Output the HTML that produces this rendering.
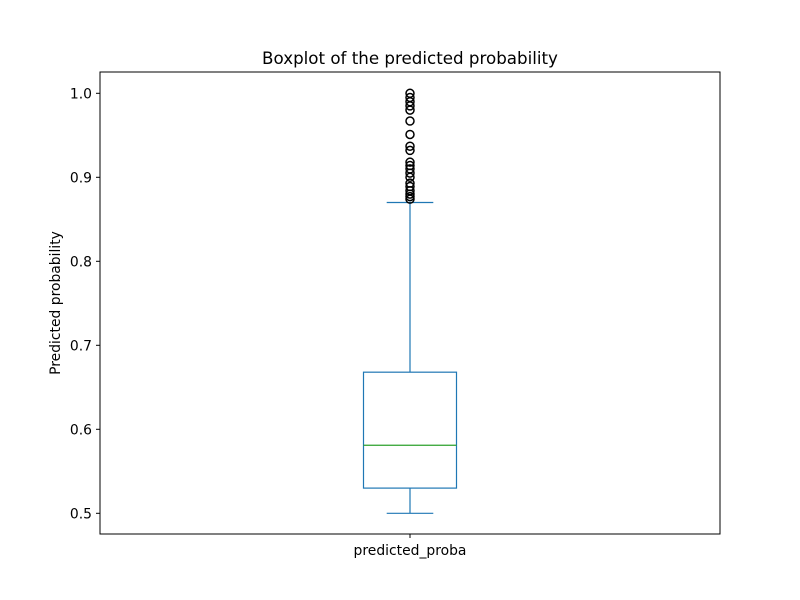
<!DOCTYPE html>
<html><head><meta charset="utf-8"><style>
body{margin:0;background:#fff;}
svg{display:block;font-family:"DejaVu Sans","Liberation Sans",sans-serif;}
</style></head><body>
<svg id="chart" width="800" height="600"></svg>
<script>
const categories=["predicted_proba"];
const whiskerLow=[0.5];
const q1=[0.530];
const median=[0.581];
const q3=[0.668];
const whiskerHigh=[0.870];
const outliers=[1.0,0.995,0.99,0.985,0.98,0.967,0.951,0.937,0.932,0.918,0.914,0.91,0.905,0.9,0.893,0.889,0.884,0.88,0.877,0.874];
const yTicks=[0.5,0.6,0.7,0.8,0.9,1.0];
const yTickLabels=["0.5","0.6","0.7","0.8","0.9","1.0"];

const L=100,R=720,T=72,B=534;
const y=v=>93.3+(1.0-v)*840;
const x=i=>L+(R-L)*(i+0.5)/categories.length;
const NS="http://www.w3.org/2000/svg";
const svg=document.getElementById('chart');
function el(tag,attrs,parent){const e=document.createElementNS(NS,tag);for(const k in attrs)e.setAttribute(k,attrs[k]);(parent||svg).appendChild(e);return e;}

let t=el('text',{x:410,y:64,'text-anchor':'middle','font-size':'16.7'});t.textContent="Boxplot of the predicted probability";


t=el('text',{x:0,y:0,'text-anchor':'middle','font-size':'13.9',transform:'translate(60,303) rotate(-90)'});t.textContent="Predicted probability";



yTicks.forEach((v,i)=>{
  const g=el('g',{});
  
  
  el('line',{x1:L-4,x2:L,y1:y(v),y2:y(v),stroke:'#000','stroke-width':1},g);
  const tt=el('text',{x:L-8,y:y(v)+5,'text-anchor':'end','font-size':'13.9'},g);tt.textContent=yTickLabels[i];
});

categories.forEach((c,i)=>{
  const cx=x(i),hw=46.5,cw=23.3,col='#1f77b4';
  const g=el('g',{});
  
  
  el('line',{x1:cx,x2:cx,y1:y(q3[i]),y2:y(whiskerHigh[i]),stroke:col,'stroke-width':1.2},g);
  el('line',{x1:cx,x2:cx,y1:y(q1[i]),y2:y(whiskerLow[i]),stroke:col,'stroke-width':1.2},g);
  el('line',{x1:cx-cw,x2:cx+cw,y1:y(whiskerHigh[i]),y2:y(whiskerHigh[i]),stroke:col,'stroke-width':1.2},g);
  el('line',{x1:cx-cw,x2:cx+cw,y1:y(whiskerLow[i]),y2:y(whiskerLow[i]),stroke:col,'stroke-width':1.2},g);
  el('rect',{x:cx-hw,y:y(q3[i]),width:2*hw,height:y(q1[i])-y(q3[i]),fill:'none',stroke:col,'stroke-width':1.2},g);
  el('line',{x1:cx-hw,x2:cx+hw,y1:y(median[i]),y2:y(median[i]),stroke:'#2ca02c','stroke-width':1.2},g);
  outliers.forEach(v=>{
    const c2=el('circle',{cx:cx,cy:y(v),r:4,fill:'none',stroke:'#000','stroke-width':1.5},g);
    
    
  });
  const tk=el('line',{x1:cx,x2:cx,y1:B,y2:B+4,stroke:'#000'});
  const lb=el('text',{x:cx,y:B+21,'text-anchor':'middle','font-size':'13.9'});lb.textContent=c;
  
  
});

const frame=el('rect',{x:L,y:T,width:R-L,height:B-T,fill:'none',stroke:'#000','stroke-width':1});


</script>
</body></html>
